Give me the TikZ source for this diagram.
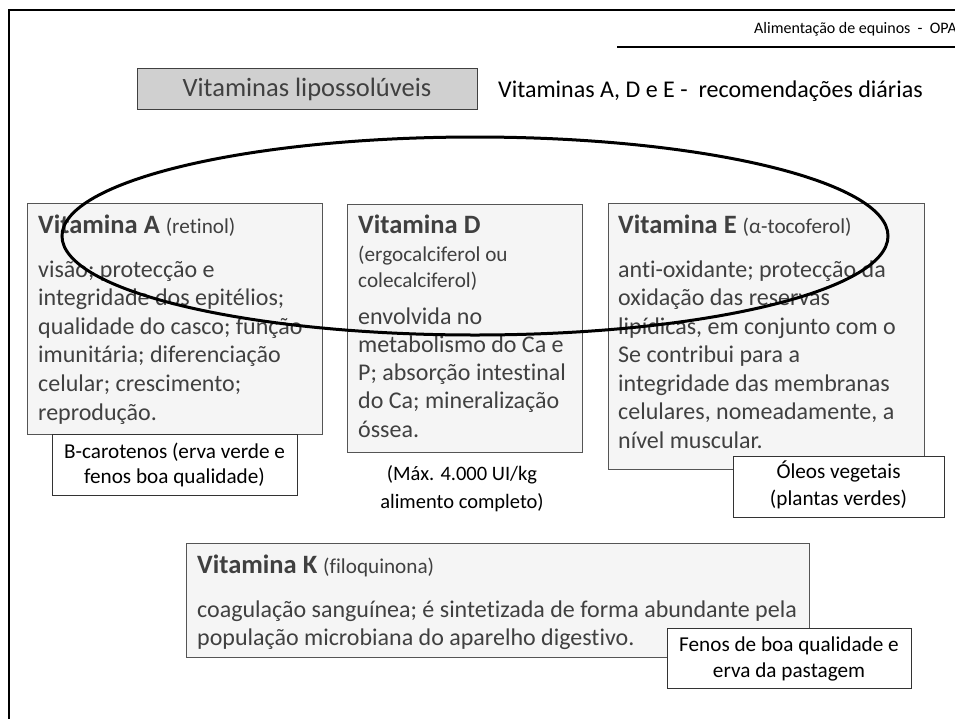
\documentclass[tikz,border=0pt]{standalone}
\usepackage{fontspec}
\setmainfont[Ligatures=NoCommon]{Carlito}
\definecolor{txt}{HTML}{404040}
\definecolor{boxfill}{HTML}{F5F5F5}
\definecolor{boxline}{HTML}{555555}
\definecolor{hdrfill}{HTML}{D0D0D0}
\newcommand\fsz[2]{\fontsize{#1}{#2}\selectfont}
\begin{document}
\begin{tikzpicture}[x=1pt,y=-1pt,
  vbox/.style={draw=boxline, fill=boxfill, line width=1.2pt, inner sep=0pt, anchor=north west},
  srcbox/.style={draw=black!80, fill=white, line width=1pt, inner sep=0pt, anchor=north west},
  hdrbox/.style={draw=black!75, fill=hdrfill, line width=1pt, inner sep=0pt, anchor=north west},
  tl/.style={inner sep=0pt, anchor=base west, text=txt},
  tc/.style={inner sep=0pt, anchor=base, text=black},
]
\useasboundingbox (0,0) rectangle (955,718);
\fill[white] (0,0) rectangle (955,718);
% frame
\draw[line width=2pt] (9,800) -- (9,10) -- (1000,10);
% header
\node[inner sep=0pt, anchor=base west] (hdr) at (754,33) {\fsz{16}{19}Alimentação de equinos~~-~~OPA};
\coordinate (ulA) at (617,47);
\coordinate (ulB) at (1000,47);
\draw[line width=2pt] (ulA) -- (ulB);
% top title
\node[hdrbox, minimum width=340pt, minimum height=41pt] (lipo) at (137,68) {};
\node[inner sep=0pt, anchor=base, text=txt] (lipot) at (307,96) {\fsz{26.5}{30}Vitaminas lipossolúveis};
\node[inner sep=0pt, anchor=base west] (rec) at (498,97) {\fsz{24}{28}Vitaminas A, D e E -~~recomendações diárias};
% Vitamina A
\node[vbox, minimum width=295pt, minimum height=231pt] (boxA) at (27,203) {};
\node[tl] (titA) at (38,233) {\fsz{26.5}{30}\bfseries Vitamina A \fsz{21.2}{25}\mdseries(retinol)};
\node[tl] (bodyA) at (38,277) {\fsz{24}{28.6}\begin{tabular}[t]{@{}l@{}}visão; protecção e\\ integridade dos epitélios;\\ qualidade do casco; função\\ imunitária; diferenciação\\ celular; crescimento;\\ reprodução.\end{tabular}};
\node[srcbox, minimum width=245pt, minimum height=61pt] (srcA) at (52,434) {};
\node[tc] (srcAt) at (174.5,458) {\fsz{21.2}{25}\begin{tabular}[t]{@{}c@{}}B-carotenos (erva verde e\\ fenos boa qualidade)\end{tabular}};
% Vitamina D
\node[vbox, minimum width=235pt, minimum height=248pt] (boxD) at (347,204) {};
\node[tl] (titD) at (358,233) {\fsz{26.5}{30}\bfseries Vitamina D};
\node[tl] (subD) at (358,261) {\fsz{21.2}{26}\begin{tabular}[t]{@{}l@{}}(ergocalciferol ou\\ colecalciferol)\end{tabular}};
\node[tl] (bodyD) at (358,324) {\fsz{24}{28.3}\begin{tabular}[t]{@{}l@{}}envolvida no\\ metabolismo do Ca e\\ P; absorção intestinal\\ do Ca; mineralização\\ óssea.\end{tabular}};
\node[tc] (maxD) at (462,480) {\fsz{20.5}{28}\begin{tabular}[t]{@{}c@{}}(Máx. 4.000 UI/kg\\ alimento completo)\end{tabular}};
% Vitamina E
\node[vbox, minimum width=316pt, minimum height=266pt] (boxE) at (608,203) {};
\node[tl] (titE) at (618,233) {\fsz{26.5}{30}\bfseries Vitamina E \fsz{21.2}{25}\mdseries(α-tocoferol)};
\node[tl] (bodyE) at (618,277) {\fsz{24}{28.5}\begin{tabular}[t]{@{}l@{}}anti-oxidante; protecção da\\ oxidação das reservas\\ lipídicas, em conjunto com o\\ Se contribui para a\\ integridade das membranas\\ celulares, nomeadamente, a\\ nível muscular.\end{tabular}};
\node[srcbox, minimum width=211pt, minimum height=61pt] (srcE) at (733,456) {};
\node[tc] (srcEt) at (838.5,478) {\fsz{21.2}{27}\begin{tabular}[t]{@{}c@{}}Óleos vegetais\\ (plantas verdes)\end{tabular}};
% Vitamina K
\node[vbox, minimum width=623pt, minimum height=114pt] (boxK) at (186,543) {};
\node[tl] (titK) at (197,573) {\fsz{26.5}{30}\bfseries Vitamina K \fsz{21.2}{25}\mdseries(filoquinona)};
\node[tl] (bodyK) at (197,617) {\fsz{24}{28}\begin{tabular}[t]{@{}l@{}}coagulação sanguínea; é sintetizada de forma abundante pela\\ população microbiana do aparelho digestivo.\end{tabular}};
\node[srcbox, minimum width=244pt, minimum height=60pt] (srcK) at (667,628) {};
\node[tc] (srcKt) at (789,651) {\fsz{21.2}{26}\begin{tabular}[t]{@{}c@{}}Fenos de boa qualidade e\\ erva da pastagem\end{tabular}};
% ellipse
\draw[line width=3pt] (475,236) ellipse [x radius=413pt, y radius=99pt];
\end{tikzpicture}
\end{document}
